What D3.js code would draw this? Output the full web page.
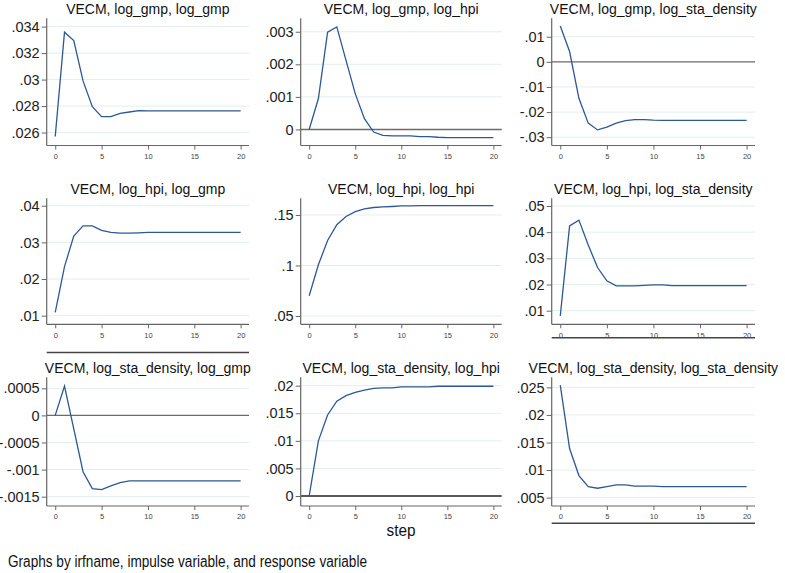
<!DOCTYPE html>
<html>
<head>
<meta charset="utf-8">
<script src="https://cdn.jsdelivr.net/npm/d3@7"></script>
<style>
  html, body { margin: 0; padding: 0; background: #fff; }
  svg { display: block; font-family: "Liberation Sans", Arial, sans-serif; }
</style>
</head>
<body>
<svg id="chart" width="785" height="573"></svg>
<script>
// steps on the x axis
const steps = [0, 1, 2, 3, 4, 5, 6, 7, 8, 9, 10, 11, 12, 13, 14, 15, 16, 17, 18, 19, 20];
const xTicks = [0, 5, 10, 15, 20];

// panel titles (irfname, impulse, response)
const titles = [
  "VECM, log_gmp, log_gmp", "VECM, log_gmp, log_hpi", "VECM, log_gmp, log_sta_density",
  "VECM, log_hpi, log_gmp", "VECM, log_hpi, log_hpi", "VECM, log_hpi, log_sta_density",
  "VECM, log_sta_density, log_gmp", "VECM, log_sta_density, log_hpi", "VECM, log_sta_density, log_sta_density"
];

// irf values
const gmp_gmp = [.0257, .03358, .03295, .0299, .02795, .0272, .0272, .02745, .02755, .02765, .02763, .02763, .02763, .02763, .02763, .02763, .02763, .02763, .02763, .02763, .02763];
const gmp_hpi = [0, .00095, .00299, .00315, .00212, .0011, .00033, -.00008, -.00018, -.0002, -.0002, -.0002, -.00022, -.00022, -.00024, -.00025, -.00025, -.00025, -.00025, -.00025, -.00025];
const gmp_sta = [.01425, .0041, -.0145, -.0244, -.0271, -.026, -.0244, -.0234, -.023, -.023, -.0232, -.0233, -.0233, -.0233, -.0233, -.0233, -.0233, -.0233, -.0233, -.0233, -.0233];
const hpi_gmp = [.0109, .0234, .0317, .0345, .0345, .0333, .0327, .0325, .0325, .0326, .0327, .0327, .0327, .0327, .0327, .0327, .0327, .0327, .0327, .0327, .0327];
const hpi_hpi = [.07, .1007, .1248, .1403, .1485, .1533, .156, .1574, .158, .1584, .159, .1591, .1592, .1592, .1592, .1592, .1592, .1592, .1592, .1592, .1592];
const hpi_sta = [.008, .0424, .0446, .0351, .0265, .0214, .0195, .0195, .0195, .0197, .0199, .0199, .0196, .0196, .0196, .0196, .0196, .0196, .0196, .0196, .0196];
const sta_gmp = [0, .00054, -.00025, -.00104, -.00135, -.00137, -.0013, -.00124, -.00121, -.00121, -.00121, -.00121, -.00121, -.00121, -.00121, -.00121, -.00121, -.00121, -.00121, -.00121, -.00121];
const sta_hpi = [0, .01, .0147, .0172, .0182, .0188, .0192, .0195, .0196, .0196, .0198, .0198, .0198, .0198, .0199, .0199, .0199, .0199, .0199, .0199, .0199];
const sta_sta = [.0254, .0139, .009, .007, .0067, .007, .0073, .0073, .0071, .0071, .0071, .007, .007, .007, .007, .007, .007, .007, .007, .007, .007];
const series = [gmp_gmp, gmp_hpi, gmp_sta, hpi_gmp, hpi_hpi, hpi_sta, sta_gmp, sta_hpi, sta_sta];

// y tick labels per panel
const yTicks = [
  [.026, .028, .03, .032, .034],
  [0, .001, .002, .003],
  [-.03, -.02, -.01, 0, .01],
  [.01, .02, .03, .04],
  [.05, .1, .15],
  [.01, .02, .03, .04, .05],
  [-.0015, -.001, -.0005, 0, .0005],
  [0, .005, .01, .015, .02],
  [.005, .01, .015, .02, .025]
];
// y range shown in each panel
const yDomains = [
  [.02502, .03463], [-.000493, .003413], [-.03331, .01734],
  [.00765, .04202], [.0418, .1665], [.0048, .05294],
  [-.001672, .000703], [-.00181, .02152], [.00348, .02683]
];
// panels with a line at y = 0
const zeroLine = [1, 2, 6, 7];

// layout
const svg = d3.select("#chart");
const cols = [[46.7, 249], [300.7, 501.7], [551.7, 755]];
const rows = [[18.3, 145.5], [198.3, 324.3], [377.3, 506]];
const lineColor = "#2d5896";
const gridColor = "#e3eeef";
const axisColor = "#666";

const fmt = v => v === 0 ? "0" : String(+v.toPrecision(6)).replace("0.", ".");

series.forEach((vals, i) => {
  const [x0, x1] = cols[i % 3];
  const [y0, y1] = rows[Math.floor(i / 3)];
  const x = d3.scaleLinear().domain([-0.92, 20.9]).range([x0, x1]);
  const y = d3.scaleLinear().domain(yDomains[i]).range([y1, y0]);
  const g = svg.append("g");

  // grid lines
  g.selectAll("line.grid")
    .data(yTicks[i].filter(t => !(t === 0 && zeroLine.includes(i))))
    .enter().append("line")
    .attr("x1", x0).attr("x2", x1)
    .attr("y1", d => y(d)).attr("y2", d => y(d))
    .attr("stroke", gridColor).attr("stroke-width", 1);

  // zero line
  if (zeroLine.includes(i)) {
    g.append("line")
      .attr("x1", x0).attr("x2", x1)
      .attr("y1", y(0)).attr("y2", y(0))
      .attr("stroke", i === 7 ? "#222" : "#6b6b6b")
      .attr("stroke-width", i === 7 ? 1.6 : 1.4);
  }

  // y axis
  const ya = g.append("g").attr("transform", `translate(${x0},0)`)
    .call(d3.axisLeft(y).tickValues(yTicks[i]).tickFormat(fmt).tickSize(5).tickPadding(2));
  ya.select(".domain").attr("d", `M0,${y0}V${y1}`).attr("stroke", axisColor).attr("stroke-width", 1.2);
  ya.selectAll(".tick line").attr("stroke", axisColor);
  ya.selectAll(".tick text").attr("fill", "#222").attr("font-size", "14.5px")
    .attr("font-family", "Liberation Sans, Arial, sans-serif");

  // x axis
  const xa = g.append("g").attr("transform", `translate(0,${y1})`)
    .call(d3.axisBottom(x).tickValues(xTicks).tickSize(4).tickPadding(4));
  xa.select(".domain").attr("d", `M${x0},0H${x1}`).attr("stroke", axisColor).attr("stroke-width", 1.2);
  xa.selectAll(".tick line").attr("stroke", axisColor);
  xa.selectAll(".tick text").attr("fill", "#444").attr("font-size", "7.5px")
    .attr("font-family", "Liberation Sans, Arial, sans-serif");

  // irf line
  g.append("path")
    .datum(vals)
    .attr("fill", "none")
    .attr("stroke", lineColor)
    .attr("stroke-width", 1.3)
    .attr("d", d3.line().x((d, k) => x(steps[k])).y(d => y(d)));

  // title
  g.append("text")
    .attr("x", (x0 + x1) / 2).attr("y", y0 - 4.5)
    .attr("text-anchor", "middle")
    .attr("font-size", "14px").attr("fill", "#111")
    .text(titles[i]);
});

// stray axis lines left over in the combined graph
[[0, 352.5], [2, 337.7], [2, 523.3]].forEach(([c, yy]) => {
  svg.append("line")
    .attr("x1", cols[c][0]).attr("x2", cols[c][1])
    .attr("y1", yy).attr("y2", yy)
    .attr("stroke", "#444").attr("stroke-width", 1.5);
});

// common x title and note
svg.append("text").attr("x", 401).attr("y", 536)
  .attr("text-anchor", "middle").attr("font-size", "16px").attr("fill", "#111")
  .attr("textLength", 29).attr("lengthAdjust", "spacingAndGlyphs")
  .text("step");
svg.append("text").attr("x", 8).attr("y", 567)
  .attr("font-size", "16px").attr("fill", "#111")
  .attr("textLength", 359).attr("lengthAdjust", "spacingAndGlyphs")
  .text("Graphs by irfname, impulse variable, and response variable");
</script>
</body>
</html>
